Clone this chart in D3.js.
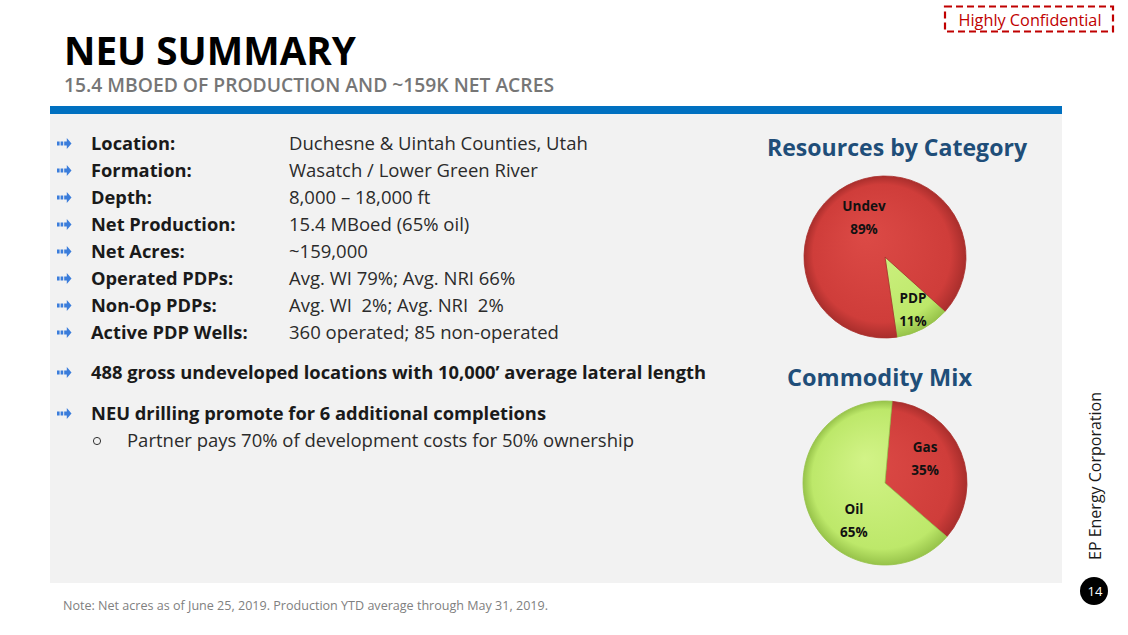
<!DOCTYPE html>
<html><head><meta charset="utf-8">
<script src="https://cdn.jsdelivr.net/npm/d3@7"></script>
<style>body{margin:0;background:#fff}svg{display:block}</style>
</head><body>
<svg id="c" width="1128" height="635"></svg>
<script>
// ---- data ----
const titleText = "NEU SUMMARY";
const subtitleText = "15.4 MBOED OF PRODUCTION AND ~159K NET ACRES";
const rowLabels = ["Location:", "Formation:", "Depth:", "Net Production:", "Net Acres:", "Operated PDPs:", "Non-Op PDPs:", "Active PDP Wells:"];
const rowValues = ["Duchesne & Uintah Counties, Utah", "Wasatch / Lower Green River", "8,000 \u2013 18,000 ft", "15.4 MBoed (65% oil)", "~159,000", "Avg. WI 79%; Avg. NRI 66%", "Avg. WI \u00a02%; Avg. NRI \u00a02%", "360 operated; 85 non-operated"];
const extraBullets = ["488 gross undeveloped locations with 10,000\u2019 average lateral length", "NEU drilling promote for 6 additional completions"];
const subBullets = ["Partner pays 70% of development costs for 50% ownership"];
const noteText = "Note: Net acres as of June 25, 2019. Production YTD average through May 31, 2019.";
const confidentialText = "Highly Confidential";
const sideText = "EP Energy Corporation";
const pageNumber = "14";

const resourceTitle = "Resources by Category";
const resourceCategories = ["PDP", "Undev"];
const resourceValues = [11, 89];
const commodityTitle = "Commodity Mix";
const commodityCategories = ["Gas", "Oil"];
const commodityValues = [35, 65];

// ---- drawing ----
const svg = d3.select("#c");
const FONT = "'Open Sans','Noto Sans',sans-serif";
const defs = svg.append("defs");

svg.append("rect").attr("x", 0).attr("y", 0).attr("width", 1128).attr("height", 635).attr("fill", "#fff");

// header
svg.append("text").text(titleText).attr("x", 64).attr("y", 65)
  .attr("font-family", FONT).attr("font-weight", 700).attr("font-size", 40)
  .attr("textLength", 292).attr("lengthAdjust", "spacingAndGlyphs").attr("fill", "#000");
svg.append("text").text(subtitleText).attr("x", 64).attr("y", 92)
  .attr("font-family", FONT).attr("font-weight", 600).attr("font-size", 19.5)
  .attr("textLength", 490).attr("lengthAdjust", "spacingAndGlyphs").attr("fill", "#767676");

// panel
svg.append("rect").attr("x", 50).attr("y", 114).attr("width", 1012).attr("height", 469).attr("fill", "#f2f2f2");
svg.append("rect").attr("x", 50).attr("y", 106).attr("width", 1012).attr("height", 8).attr("fill", "#0070c0");

// confidential box
svg.append("rect").attr("x", 945).attr("y", 6.5).attr("width", 168).attr("height", 25)
  .attr("fill", "none").attr("stroke", "#c00000").attr("stroke-width", 2.2).attr("stroke-dasharray", "7,4");
svg.append("text").text(confidentialText).attr("x", 1030).attr("y", 25.5).attr("text-anchor", "middle")
  .attr("font-family", FONT).attr("font-size", 16.5).attr("fill", "#c00000")
  .attr("textLength", 143).attr("lengthAdjust", "spacingAndGlyphs");

// arrow bullet
function arrow(g, x, yc) {
  const a = g.append("g").attr("transform", `translate(${x},${yc})`).attr("fill", "#3b7ddb");
  a.append("rect").attr("x", 0).attr("y", -2).attr("width", 2.6).attr("height", 4);
  a.append("rect").attr("x", 3.6).attr("y", -2).attr("width", 2.6).attr("height", 4);
  a.append("path").attr("d", "M7.2,-2 L9.8,-2 L9.8,-5.5 L14.5,0 L9.8,5.5 L9.8,2 L7.2,2 Z");
}

const rowY = d3.scaleLinear().domain([0, 1]).range([150, 177]);
const rows = svg.append("g");
rowLabels.forEach((lab, i) => {
  const y = rowY(i);
  arrow(rows, 57, y - 6.5);
  rows.append("text").text(lab).attr("x", 91).attr("y", y)
    .attr("font-family", FONT).attr("font-weight", 700).attr("font-size", 18.3).attr("fill", "#1a1a1a");
  rows.append("text").text(rowValues[i]).attr("x", 289).attr("y", y)
    .attr("font-family", FONT).attr("font-size", 18.5).attr("fill", "#2b2b2b");
});

const extraY = [379, 420];
const extraW = [615, 455];
extraBullets.forEach((t, i) => {
  arrow(rows, 57, extraY[i] - 6.5);
  rows.append("text").text(t).attr("x", 91).attr("y", extraY[i])
    .attr("font-family", FONT).attr("font-weight", 700).attr("font-size", 18.3).attr("fill", "#1a1a1a")
    .attr("textLength", extraW[i]).attr("lengthAdjust", "spacingAndGlyphs");
});
subBullets.forEach((t, i) => {
  rows.append("circle").attr("cx", 97).attr("cy", 441).attr("r", 3.6).attr("fill", "none").attr("stroke", "#333").attr("stroke-width", 1);
  rows.append("text").text(t).attr("x", 127).attr("y", 447)
    .attr("font-family", FONT).attr("font-size", 18.5).attr("fill", "#2b2b2b")
    .attr("textLength", 507).attr("lengthAdjust", "spacingAndGlyphs");
});

// note
svg.append("text").text(noteText).attr("x", 63).attr("y", 610)
  .attr("font-family", FONT).attr("font-size", 13).attr("fill", "#808080")
  .attr("textLength", 485).attr("lengthAdjust", "spacingAndGlyphs");

// side text + page
svg.append("text").text(sideText).attr("transform", "translate(1101,476) rotate(-90)")
  .attr("text-anchor", "middle").attr("font-family", FONT).attr("font-size", 17).attr("fill", "#1a1a1a")
  .attr("textLength", 168).attr("lengthAdjust", "spacingAndGlyphs");
svg.append("circle").attr("cx", 1094).attr("cy", 591).attr("r", 14).attr("fill", "#000");
svg.append("text").text(pageNumber).attr("x", 1095).attr("y", 596).attr("text-anchor", "middle")
  .attr("font-family", FONT).attr("font-size", 13).attr("fill", "#fff");

// pies
const palette = {
  red: ["#dc4a46", "#cf3d3a", "#a92e2c"],
  green: ["#d2f387", "#bde86a", "#97c34a"]
};
function makeGrad(id, r, cols) {
  const g = defs.append("radialGradient").attr("id", id).attr("gradientUnits", "userSpaceOnUse")
    .attr("cx", 0).attr("cy", 0).attr("r", r).attr("fx", -r * 0.25).attr("fy", -r * 0.3);
  g.append("stop").attr("offset", "0%").attr("stop-color", cols[0]);
  g.append("stop").attr("offset", "85%").attr("stop-color", cols[1]);
  g.append("stop").attr("offset", "100%").attr("stop-color", cols[2]);
}
function drawPie(opts) {
  const { title, titleX, titleY, titleW, cats, vals, cx, cy, R, startDeg, colors, labR, labShift, key } = opts;
  svg.append("text").text(title).attr("x", titleX).attr("y", titleY)
    .attr("font-family", FONT).attr("font-weight", 700).attr("font-size", 23).attr("fill", "#1f4e79")
    .attr("textLength", titleW).attr("lengthAdjust", "spacingAndGlyphs");
  const start = startDeg * Math.PI / 180;
  const pie = d3.pie().sort(null).startAngle(start).endAngle(start + 2 * Math.PI);
  const arcs = pie(vals);
  const arc = d3.arc().innerRadius(0).outerRadius(R);
  const g = svg.append("g").attr("transform", `translate(${cx},${cy})`);
  arcs.forEach((a, i) => makeGrad(`${key}-${i}`, R, palette[colors[i]]));
  g.selectAll("path").data(arcs).join("path")
    .attr("d", arc)
    .attr("fill", (d, i) => `url(#${key}-${i})`)
    .attr("stroke", (d, i) => palette[colors[i]][2]).attr("stroke-width", 0.8);
  const fmt = d3.format(".0%");
  const total = d3.sum(vals);
  arcs.forEach((a, i) => {
    const mid = (a.startAngle + a.endAngle) / 2 + labShift[i] * Math.PI / 180;
    const r = R * labR[i];
    const lx = Math.sin(mid) * r, ly = -Math.cos(mid) * r;
    g.append("text").text(cats[i]).attr("x", lx).attr("y", ly - 11.5).attr("text-anchor", "middle")
      .attr("dominant-baseline", "central").attr("font-family", FONT).attr("font-weight", 700)
      .attr("font-size", 13.5).attr("fill", "#111");
    g.append("text").text(fmt(vals[i] / total)).attr("x", lx).attr("y", ly + 11.5).attr("text-anchor", "middle")
      .attr("dominant-baseline", "central").attr("font-family", FONT).attr("font-weight", 700)
      .attr("font-size", 13.5).attr("fill", "#111");
  });
}
drawPie({ key: "res", title: resourceTitle, titleX: 767, titleY: 156, titleW: 260,
  cats: resourceCategories, vals: resourceValues, cx: 885, cy: 257, R: 81, startDeg: 132,
  colors: ["green", "red"], labR: [0.73, 0.55], labShift: [0, 0] });
drawPie({ key: "com", title: commodityTitle, titleX: 787, titleY: 386, titleW: 185,
  cats: commodityCategories, vals: commodityValues, cx: 885, cy: 483, R: 82, startDeg: 5,
  colors: ["red", "green"], labR: [0.57, 0.59], labShift: [-9, -28] });
</script>
</body></html>
